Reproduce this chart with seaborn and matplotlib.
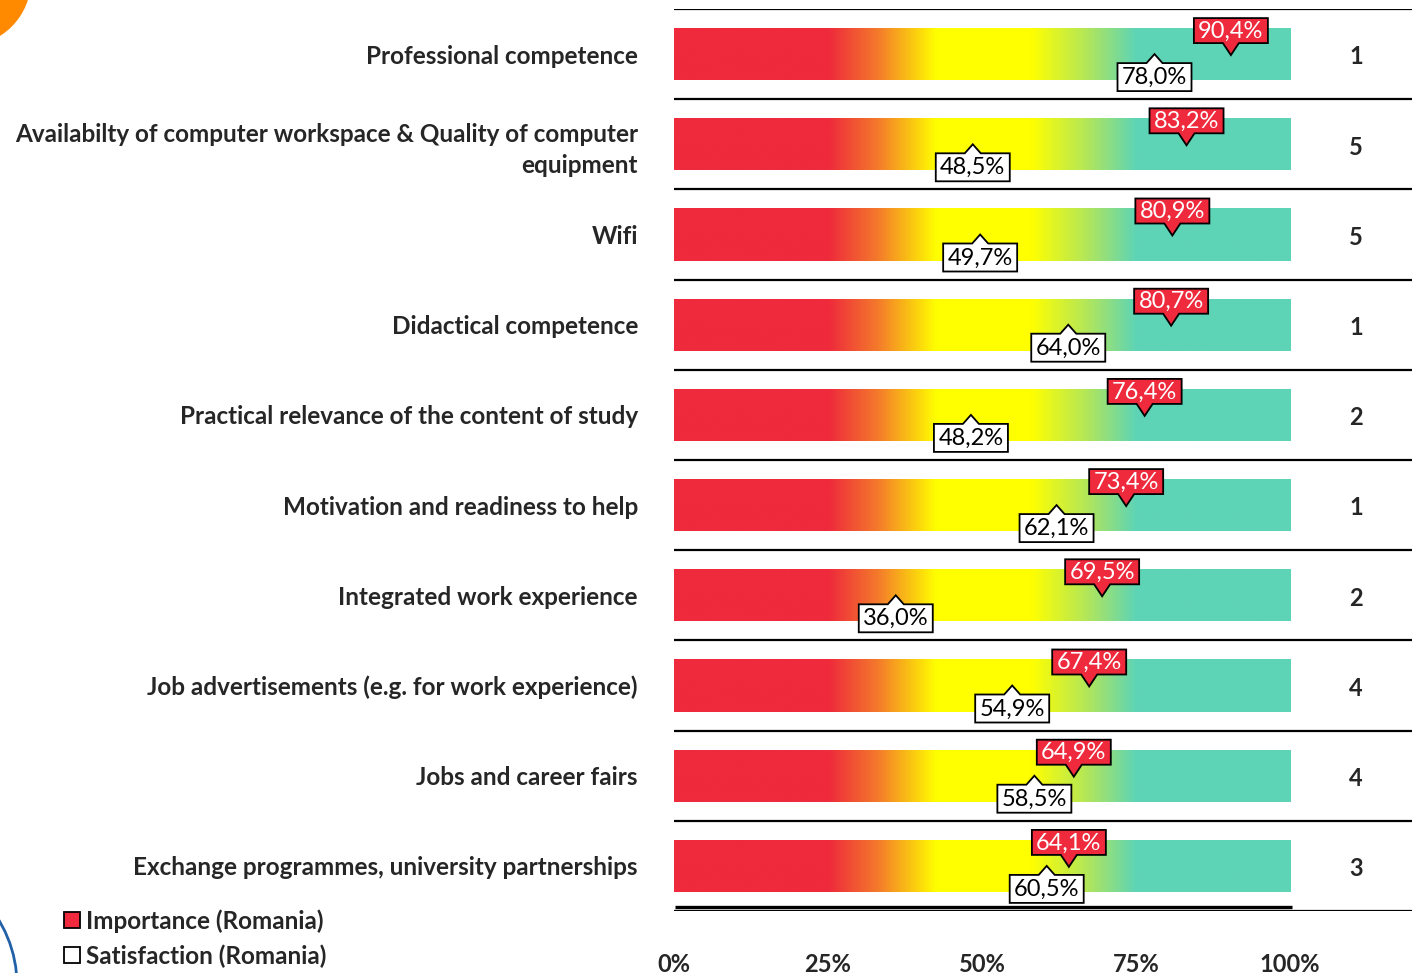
import numpy as np
import pandas as pd
import matplotlib
matplotlib.use("Agg")
import matplotlib.pyplot as plt
import matplotlib.transforms as mtransforms
from matplotlib.colors import LinearSegmentedColormap
from matplotlib.patches import Polygon, Circle, Rectangle
import seaborn as sns

# Data
categories = [
    "Professional competence",
    "Availabilty of computer workspace & Quality of computer\nequipment",
    "Wifi",
    "Didactical competence",
    "Practical relevance of the content of study",
    "Motivation and readiness to help",
    "Integrated work experience",
    "Job advertisements (e.g. for work experience)",
    "Jobs and career fairs",
    "Exchange programmes, university partnerships",
]
importance = [90.4, 83.2, 80.9, 80.7, 76.4, 73.4, 69.5, 67.4, 64.9, 64.1]
satisfaction = [78.0, 48.5, 49.7, 64.0, 48.2, 62.1, 36.0, 54.9, 58.5, 60.5]
ranks = [1, 5, 5, 1, 2, 1, 2, 4, 4, 3]
scale_max = [100] * len(categories)
tick_values = [0, 25, 50, 75, 100]
tick_labels = ["0%", "25%", "50%", "75%", "100%"]

RED = "#EE2A3C"
TEAL = "#5ED4B6"
cmap = LinearSegmentedColormap.from_list("scale", [
    (0.00, RED), (0.25, RED), (0.33, "#F47A2B"), (0.425, "#FFFF00"),
    (0.58, "#FFFF00"), (0.67, "#B2E65A"), (0.75, TEAL), (1.00, TEAL)])

sns.set_theme(style="white")
plt.rcParams["font.family"] = ["Lato", "DejaVu Sans"]

df = pd.DataFrame({"category": categories, "scale": scale_max})

fig = plt.figure(figsize=(14.12, 9.73), dpi=100)
ax = fig.add_axes([674 / 1412, 1 - 911 / 973, 1 - 674 / 1412, (911 - 9) / 973])

sns.barplot(data=df, y="category", x="scale", orient="h", width=0.58,
            color="white", edgecolor="none", ax=ax)

# gradient fill clipped to each bar
grad = np.linspace(0, 1, 512).reshape(1, -1)
for patch in ax.patches:
    x0, y0 = patch.get_x(), patch.get_y()
    w, h = patch.get_width(), patch.get_height()
    im = ax.imshow(grad, extent=[x0, x0 + w, y0 + h, y0], cmap=cmap,
                   aspect="auto", interpolation="bilinear", zorder=2)
    im.set_clip_path(patch)

ax.set_xlim(0, 119.8)
ax.set_ylim(len(categories) - 0.5, -0.5)
ax.set_aspect("auto")
for s in ax.spines.values():
    s.set_visible(False)

# row separators
for i in range(len(categories) + 1):
    ax.axhline(i - 0.5, color="black", lw=1.6, zorder=1)
ax.plot([0.2, 100.3], [len(categories) - 0.545] * 2, color="black", lw=2.4,
        solid_capstyle="butt", zorder=1)

ax.set_xticks(tick_values)
ax.set_xticklabels(tick_labels, fontsize=17, fontweight="bold")
ax.tick_params(axis="x", length=0, pad=30)
ax.tick_params(axis="y", length=0, pad=26)
for lbl in ax.get_yticklabels():
    lbl.set_fontsize(17.5)
    lbl.set_fontweight("bold")
    lbl.set_linespacing(1.4)
ax.set_xlabel("")
ax.set_ylabel("")


def callout(x, y, text, face, txtcolor, above):
    # shape in inches relative to the value point on the bar centre line
    trans = fig.dpi_scale_trans + mtransforms.ScaledTranslation(x, y, ax.transData)
    hw, pb, tip = 0.37, 0.08, 0.0
    if above:
        b0, b1, tip = 0.11, 0.36, -0.01
    else:
        b0, b1 = -0.09, -0.37
    verts = [(0, tip), (pb, b0), (hw, b0), (hw, b1), (-hw, b1), (-hw, b0), (-pb, b0)]
    ax.add_patch(Polygon(verts, closed=True, facecolor=face, edgecolor="black",
                         lw=1.3, transform=trans, zorder=5, clip_on=False))
    ax.text(0, (b0 + b1) / 2 - 0.005, text, transform=trans, ha="center",
            va="center", fontsize=17, color=txtcolor, zorder=6)


for i in range(len(categories)):
    callout(satisfaction[i], i, f"{satisfaction[i]:.1f}%".replace(".", ","),
            "white", "black", above=False)
    callout(importance[i], i, f"{importance[i]:.1f}%".replace(".", ","),
            RED, "white", above=True)
    ax.text(110.7, i + 0.03, str(ranks[i]), ha="center", va="center",
            fontsize=17, fontweight="bold")

# legend
fig.patches.append(Rectangle((64 / 1412, 1 - 928 / 973), 16 / 1412, 16 / 973,
                             transform=fig.transFigure, facecolor=RED,
                             edgecolor="black", lw=1.3))
fig.patches.append(Rectangle((64 / 1412, 1 - 963 / 973), 16 / 1412, 16 / 973,
                             transform=fig.transFigure, facecolor="white",
                             edgecolor="black", lw=1.3))
fig.text(86 / 1412, 1 - 921 / 973, "Importance (Romania)", fontsize=17.5,
         fontweight="bold", va="center")
fig.text(86 / 1412, 1 - 956 / 973, "Satisfaction (Romania)", fontsize=17.5,
         fontweight="bold", va="center")

# decorative corner shapes (pixel coordinates, origin top-left)
pix = mtransforms.Affine2D().scale(1 / 1412, -1 / 973).translate(0, 1) + fig.transFigure
fig.patches.append(Circle((-35, -20), 66, transform=pix, facecolor="#FF8A00",
                          edgecolor="none"))
fig.patches.append(Circle((-108, 985), 125, transform=pix, facecolor="none",
                          edgecolor="#2260A8", lw=2))

fig.savefig("out.png", dpi=100)
